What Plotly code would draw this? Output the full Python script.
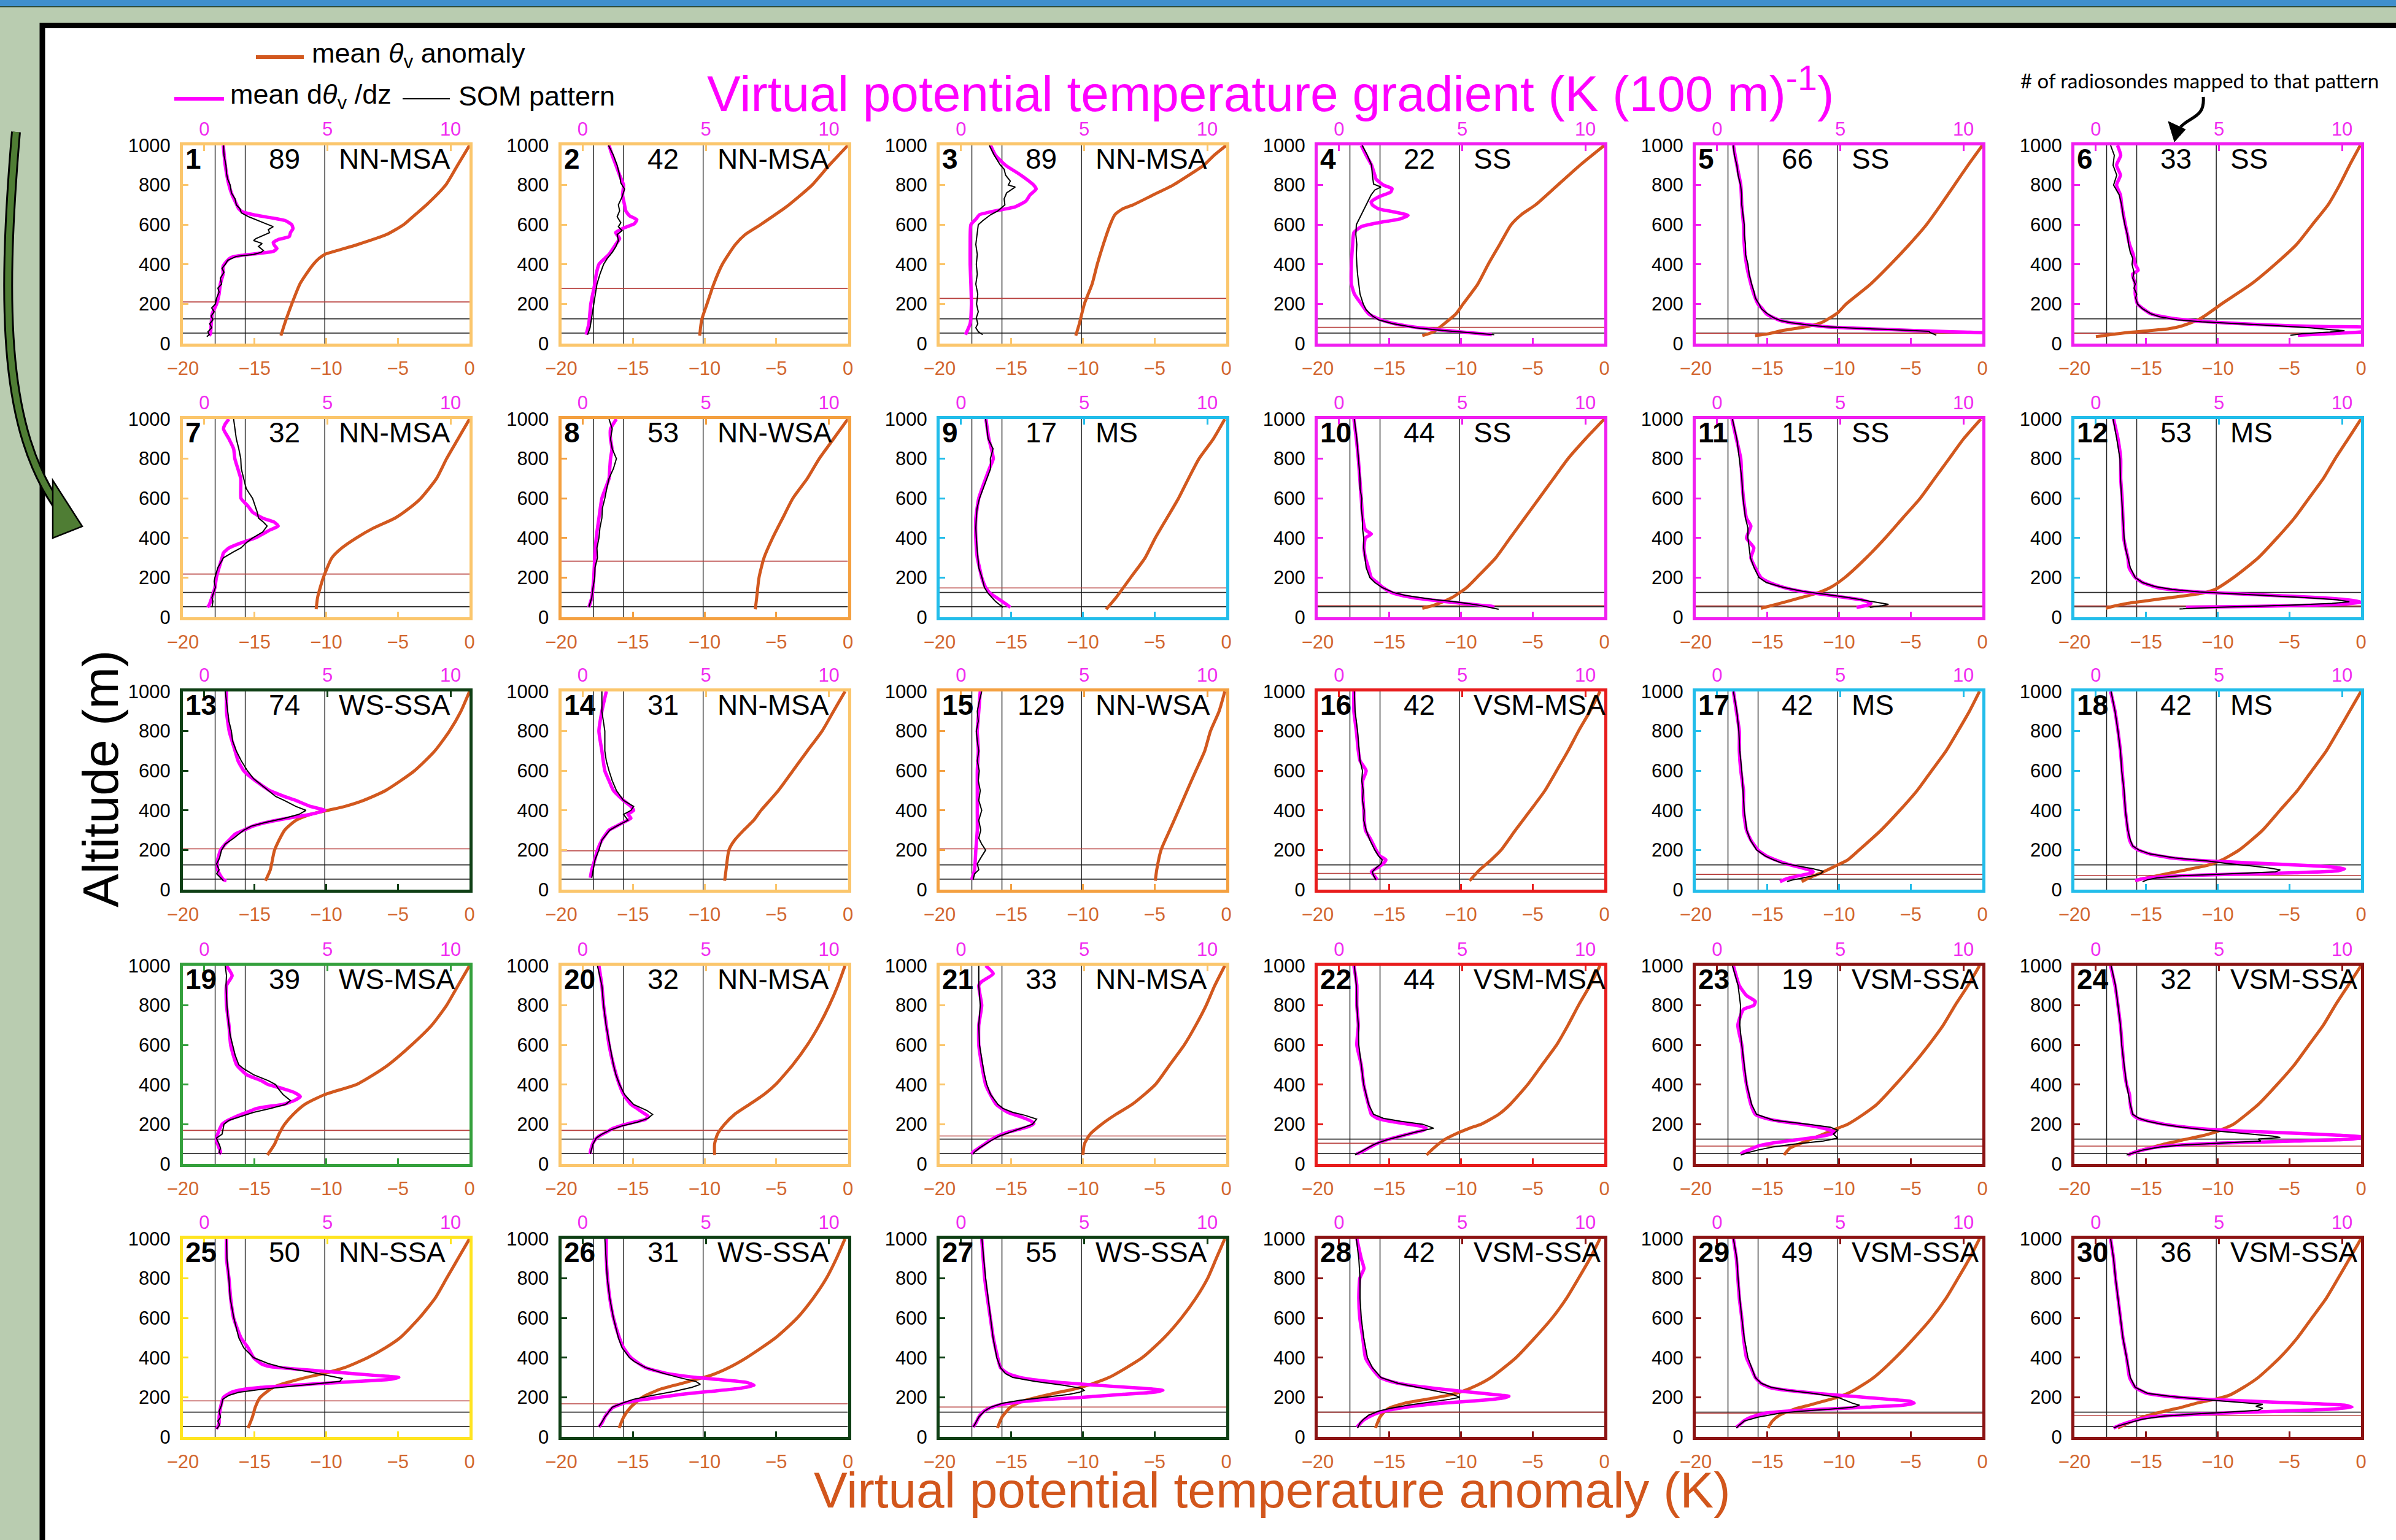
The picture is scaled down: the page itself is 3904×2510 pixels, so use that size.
import plotly.graph_objects as go

# ---------------- data ----------------
PANEL_NO = list(range(1, 31))
COUNTS = [89, 42, 89, 22, 66, 33, 32, 53, 17, 44, 15, 53, 74, 31, 129, 42, 42, 42,
          39, 32, 33, 44, 19, 32, 50, 31, 55, 42, 49, 36]
CLASSES = ["NN-MSA", "NN-MSA", "NN-MSA", "SS", "SS", "SS",
           "NN-MSA", "NN-WSA", "MS", "SS", "SS", "MS",
           "WS-SSA", "NN-MSA", "NN-WSA", "VSM-MSA", "MS", "MS",
           "WS-MSA", "NN-MSA", "NN-MSA", "VSM-MSA", "VSM-SSA", "VSM-SSA",
           "NN-SSA", "WS-SSA", "WS-SSA", "VSM-SSA", "VSM-SSA", "VSM-SSA"]
CLASS_COLORS = {"NN-MSA": "#FBC66C", "NN-WSA": "#F4A040", "SS": "#F01EF0", "MS": "#22BDEA",
                "WS-SSA": "#0E3F14", "WS-MSA": "#34A03C", "VSM-MSA": "#E81C1C",
                "VSM-SSA": "#8C1313", "NN-SSA": "#FFE420"}
RED_LINE_Z = [210, 278, 228, 82, 52, 52, 218, 283, 148, 58, 57, 57, 206, 196, 206, 82, 77, 72,
              169, 169, 141, 104, 90, 90, 182, 167, 151, 125, 120, 109]
BLACK_LINE_Z = [53, 125]
GUIDE_X = [-17.75, -15.65, -10.1]
X_BOTTOM_TICKS = [-20, -15, -10, -5, 0]
X_TOP_TICKS = [0, 5, 10]
Y_TICKS = [0, 200, 400, 600, 800, 1000]

# [altitude m, value] ; MAG/SOM in K (100 m)^-1, THV in K
MAG_01 = [[40,0.2],[50,0.25],[100,0.28],[150,0.32],[200,0.5],[250,0.6],[300,0.65],[350,0.76],[390,0.76],[420,0.94],[435,1.1],[445,1.5],[455,2.2],[465,2.8],[480,2.95],[495,2.85],[510,2.8],[525,3.0],[540,3.45],[560,3.5],[580,3.6],[600,3.55],[620,3.3],[635,2.7],[650,2.0],[665,1.55],[680,1.4],[700,1.32],[750,1.13],[800,1.0],[900,0.85],[1000,0.77]]
SOM_01 = [[35,0.1],[45,0.2],[60,0.15],[80,0.3],[100,0.22],[120,0.35],[140,0.28],[160,0.4],[180,0.3],[200,0.45],[230,0.5],[260,0.6],[280,0.55],[300,0.7],[330,0.65],[360,0.8],[380,0.72],[400,0.85],[420,0.95],[440,1.3],[450,2.0],[460,2.3],[470,2.4],[490,2.2],[505,2.35],[520,2.0],[530,2.1],[545,2.4],[560,2.65],[575,2.6],[590,2.8],[605,2.5],[620,2.2],[640,1.8],[660,1.5],[680,1.45],[700,1.3],[730,1.25],[760,1.1],[800,1.05],[830,0.95],[860,0.9],[900,0.88],[950,0.8],[1000,0.78]]
THV_01 = [[40,-13.16],[100,-12.9],[200,-12.4],[300,-11.84],[350,-11.4],[400,-10.9],[430,-10.5],[450,-10.1],[470,-9.2],[500,-7.8],[550,-5.8],[600,-4.6],[650,-3.8],[700,-3.0],[800,-1.66],[900,-0.83],[1000,0.0]]

MAG_02 = [[45,0.14],[100,0.25],[200,0.33],[300,0.49],[350,0.55],[400,0.66],[430,0.9],[450,1.07],[500,1.34],[530,1.5],[560,1.34],[585,1.7],[605,2.1],[625,2.2],[645,1.9],[670,1.75],[700,1.7],[750,1.62],[800,1.66],[850,1.5],[900,1.35],[950,1.2],[1000,1.07]]
SOM_02 = [[45,0.2],[80,0.3],[120,0.35],[160,0.4],[200,0.45],[250,0.5],[300,0.58],[350,0.7],[400,0.85],[430,1.0],[460,1.2],[490,1.35],[520,1.45],[550,1.4],[570,1.6],[590,1.45],[610,1.55],[640,1.4],[670,1.5],[700,1.45],[740,1.6],[780,1.7],[810,1.55],[850,1.5],[900,1.4],[950,1.25],[1000,1.05]]
THV_02 = [[40,-10.34],[120,-10.2],[200,-9.83],[300,-9.36],[400,-8.76],[500,-7.85],[550,-7.17],[600,-6.1],[700,-4.12],[800,-2.5],[900,-1.3],[1000,0.0]]

MAG_03 = [[45,0.18],[100,0.37],[200,0.42],[300,0.4],[400,0.37],[500,0.37],[600,0.4],[630,0.62],[650,0.75],[670,1.4],[690,2.2],[720,2.64],[750,2.8],[780,3.05],[800,2.95],[850,2.43],[900,1.81],[950,1.4],[1000,1.2]]
SOM_03 = [[45,0.88],[60,0.7],[80,0.6],[100,0.68],[130,0.62],[160,0.7],[200,0.63],[250,0.68],[300,0.6],[350,0.66],[400,0.62],[450,0.66],[500,0.6],[550,0.65],[600,0.7],[620,0.88],[650,1.2],[670,1.5],[700,1.78],[730,1.75],[760,1.85],[790,2.2],[800,1.92],[820,2.0],[850,1.81],[880,1.75],[900,1.6],[950,1.35],[1000,1.15]]
THV_03 = [[40,-10.5],[100,-10.25],[200,-9.9],[300,-9.36],[400,-9.0],[500,-8.58],[600,-8.1],[650,-7.77],[680,-7.23],[700,-6.5],[750,-5.1],[800,-3.7],[850,-2.6],[900,-1.56],[950,-0.85],[1000,0.0]]

MAG_04 = [[45,6.2],[55,5.3],[65,4.45],[80,3.27],[100,2.27],[120,1.7],[150,1.2],[200,0.9],[250,0.62],[300,0.5],[400,0.5],[500,0.55],[560,0.6],[590,0.9],[610,1.6],[630,2.5],[647,2.8],[665,2.2],[680,1.6],[700,1.35],[715,1.3],[740,1.6],[765,2.1],[782,2.15],[800,1.8],[830,1.5],[850,1.45],[900,1.32],[950,1.1],[1000,0.9]]
SOM_04 = [[45,6.3],[55,5.2],[65,4.3],[80,3.1],[100,2.2],[120,1.6],[140,1.35],[170,1.1],[200,0.98],[250,0.85],[300,0.8],[350,0.75],[400,0.72],[450,0.7],[500,0.72],[550,0.68],[600,0.7],[650,0.9],[700,1.1],[750,1.3],[775,1.45],[790,1.7],[805,1.4],[850,1.35],[900,1.32],[950,1.15],[1000,0.94]]
THV_04 = [[40,-12.7],[60,-11.9],[100,-11.17],[150,-10.35],[200,-9.85],[300,-8.83],[400,-8.1],[500,-7.3],[600,-6.5],[650,-5.8],[700,-4.8],[800,-3.25],[900,-1.7],[1000,0.0]]

MAG_05 = [[52,11.2],[55,10.9],[58,10.0],[62,9.0],[66,8.0],[72,6.8],[78,5.5],[85,4.4],[95,3.7],[105,3.0],[115,2.6],[130,2.3],[150,2.0],[175,1.84],[200,1.66],[250,1.49],[300,1.37],[400,1.19],[500,1.1],[600,1.07],[700,1.0],[800,0.96],[900,0.8],[1000,0.66]]
SOM_05 = [[42,8.9],[50,8.75],[56,8.65],[62,8.6],[66,8.0],[72,6.8],[78,5.5],[85,4.4],[95,3.6],[105,3.0],[115,2.6],[130,2.3],[150,2.05],[175,1.8],[200,1.7],[230,1.55],[260,1.5],[300,1.4],[350,1.3],[400,1.25],[450,1.15],[500,1.15],[550,1.1],[600,1.1],[650,1.05],[700,1.0],[750,1.0],[800,0.95],[850,0.85],[900,0.8],[950,0.7],[1000,0.65]]
THV_05 = [[40,-15.86],[50,-14.9],[65,-14.0],[85,-12.3],[107,-11.2],[155,-10.1],[200,-9.5],[300,-7.8],[400,-6.4],[500,-5.1],[600,-3.9],[700,-2.9],[800,-1.95],[900,-1.0],[1000,0.0]]

MAG_06 = [[42,8.2],[50,9.5],[60,10.9],[70,11.2],[80,11.2],[85,9.5],[90,7.9],[100,6.0],[110,4.55],[120,3.6],[130,2.97],[150,2.24],[175,1.93],[200,1.69],[250,1.6],[300,1.6],[350,1.49],[370,1.72],[400,1.6],[450,1.52],[500,1.37],[600,1.2],[700,1.05],[750,1.0],[800,0.84],[850,1.0],[900,0.84],[950,1.01],[1000,0.88]]
SOM_06 = [[42,7.9],[50,8.4],[58,9.5],[65,10.1],[70,9.6],[80,8.7],[90,7.4],[100,5.7],[110,4.3],[120,3.3],[135,2.6],[150,2.24],[175,1.9],[200,1.69],[230,1.62],[250,1.66],[280,1.55],[300,1.6],[330,1.5],[360,1.55],[400,1.47],[430,1.5],[460,1.4],[500,1.33],[550,1.28],[600,1.18],[650,1.1],[700,1.05],[750,0.95],[800,0.72],[850,0.85],[900,0.7],[950,0.75],[1000,0.6]]
THV_06 = [[35,-18.5],[45,-17.5],[55,-16.4],[65,-14.8],[75,-13.4],[85,-12.7],[100,-12.05],[120,-11.37],[150,-10.7],[200,-9.73],[300,-7.67],[400,-6.0],[500,-4.5],[600,-3.4],[700,-2.3],[800,-1.5],[900,-0.8],[1000,-0.05]]

MAG_07 = [[50,0.13],[60,0.19],[100,0.31],[150,0.43],[200,0.49],[250,0.6],[300,0.72],[325,0.78],[350,1.01],[375,1.49],[400,2.07],[420,2.37],[440,2.66],[460,3.0],[480,2.84],[500,2.37],[530,1.96],[560,1.78],[600,1.49],[650,1.48],[700,1.48],[750,1.36],[800,1.24],[850,1.19],[900,1.0],[950,0.78],[975,0.85],[1000,1.0]]
SOM_07 = [[50,0.31],[80,0.35],[100,0.31],[130,0.4],[150,0.45],[180,0.4],[200,0.43],[250,0.55],[300,0.78],[330,1.19],[350,1.49],[375,1.7],[400,1.96],[430,2.37],[460,2.55],[480,2.4],[500,2.2],[530,2.15],[560,2.07],[600,1.96],[630,1.8],[650,1.7],[700,1.6],[750,1.5],[800,1.48],[850,1.4],[900,1.3],[950,1.25],[1000,1.19]]
THV_07 = [[40,-10.7],[100,-10.6],[200,-10.2],[300,-9.6],[350,-8.9],[400,-7.9],[450,-6.7],[500,-5.2],[550,-4.2],[600,-3.4],[700,-2.3],[800,-1.6],[900,-0.8],[1000,0.0]]

MAG_08 = [[50,0.25],[100,0.37],[200,0.45],[300,0.49],[400,0.55],[500,0.66],[600,0.78],[700,1.07],[750,1.1],[800,1.13],[850,1.19],[900,1.13],[950,1.13],[1000,1.37]]
SOM_08 = [[50,0.25],[100,0.37],[150,0.42],[200,0.49],[250,0.5],[300,0.6],[350,0.58],[400,0.66],[450,0.7],[500,0.78],[550,0.8],[600,0.9],[650,0.98],[700,1.07],[750,1.25],[800,1.37],[850,1.2],[900,1.13],[950,1.2],[1000,1.07]]
THV_08 = [[40,-6.46],[100,-6.36],[200,-6.2],[300,-5.85],[400,-5.25],[500,-4.55],[600,-3.84],[700,-2.83],[800,-2.0],[900,-1.0],[1000,0.0]]

MAG_09 = [[50,2.0],[60,1.9],[80,1.67],[100,1.43],[120,1.19],[150,1.0],[200,0.84],[250,0.75],[300,0.66],[400,0.6],[500,0.6],[600,0.72],[700,1.0],[750,1.15],[800,1.31],[900,1.13],[1000,1.01]]
SOM_09 = [[50,1.7],[60,1.6],[80,1.4],[100,1.25],[120,1.1],[150,0.95],[200,0.85],[250,0.72],[300,0.68],[350,0.65],[400,0.62],[450,0.6],[500,0.62],[550,0.65],[600,0.75],[650,0.9],[700,1.05],[750,1.2],[800,1.19],[850,1.3],[900,1.1],[950,1.05],[1000,1.0]]
THV_09 = [[40,-8.38],[100,-7.68],[200,-6.67],[300,-5.66],[400,-4.95],[500,-4.14],[600,-3.33],[700,-2.63],[800,-1.9],[900,-0.9],[1000,-0.1]]

MAG_10 = [[50,6.3],[55,6.2],[60,5.8],[70,5.0],[80,4.25],[90,3.54],[100,2.96],[110,2.55],[125,2.13],[150,1.78],[175,1.55],[200,1.31],[250,1.19],[300,1.07],[350,1.01],[400,1.07],[420,1.31],[440,1.07],[500,0.96],[600,0.9],[700,0.84],[800,0.78],[900,0.7],[1000,0.6]]
SOM_10 = [[40,6.48],[50,6.1],[60,5.7],[70,5.2],[80,4.6],[90,3.8],[100,3.2],[110,2.7],[125,2.2],[150,1.75],[175,1.45],[200,1.25],[250,1.1],[300,1.05],[350,1.0],[400,1.0],[450,0.95],[500,0.95],[550,0.9],[600,0.92],[650,0.85],[700,0.85],[800,0.78],[900,0.72],[1000,0.62]]
THV_10 = [[45,-12.7],[60,-11.9],[80,-11.2],[100,-10.6],[150,-9.6],[200,-8.9],[300,-7.57],[400,-6.57],[500,-5.56],[600,-4.55],[700,-3.54],[800,-2.53],[900,-1.31],[1000,0.0]]

MAG_11 = [[50,5.66],[60,6.07],[70,6.25],[80,6.07],[90,5.78],[100,5.19],[115,4.31],[130,3.43],[150,2.72],[175,2.13],[200,1.78],[250,1.55],[300,1.37],[350,1.49],[400,1.19],[460,1.37],[500,1.19],[600,1.07],[700,1.0],[800,0.96],[900,0.78],[1000,0.6]]
SOM_11 = [[50,6.2],[58,6.7],[65,6.96],[75,6.5],[85,6.0],[100,5.3],[115,4.4],[130,3.5],[150,2.7],[175,2.0],[200,1.7],[250,1.5],[300,1.35],[350,1.3],[400,1.25],[450,1.25],[500,1.15],[600,1.05],[700,1.0],[800,0.9],[900,0.8],[1000,0.62]]
THV_11 = [[45,-15.45],[60,-14.65],[80,-13.6],[100,-12.6],[120,-11.6],[150,-10.6],[200,-9.6],[300,-8.1],[400,-6.77],[500,-5.56],[600,-4.34],[700,-3.33],[800,-2.32],[900,-1.31],[1000,-0.1]]

MAG_12 = [[50,3.66],[55,6.6],[65,9.84],[75,10.8],[85,10.4],[95,9.54],[105,8.07],[115,6.3],[125,4.54],[135,3.37],[150,2.49],[175,1.9],[200,1.6],[250,1.35],[300,1.3],[400,1.13],[500,1.1],[600,1.07],[700,1.01],[800,1.01],[900,0.9],[1000,0.72]]
SOM_12 = [[42,3.4],[50,5.0],[60,7.8],[70,9.6],[78,10.3],[88,9.8],[98,8.6],[108,7.1],[118,5.6],[128,4.2],[140,3.1],[155,2.4],[175,1.9],[200,1.6],[250,1.4],[300,1.3],[350,1.2],[400,1.15],[500,1.1],[600,1.05],[700,1.0],[800,0.98],[900,0.85],[1000,0.7]]
THV_12 = [[45,-17.8],[55,-17.3],[70,-16.3],[85,-14.75],[100,-13.2],[120,-11.2],[140,-10.2],[200,-8.9],[300,-7.17],[400,-5.86],[500,-4.65],[600,-3.64],[700,-2.63],[800,-1.8],[900,-0.9],[1000,0.0]]

MAG_13 = [[45,0.9],[50,0.78],[70,0.66],[100,0.54],[150,0.54],[200,0.66],[220,0.78],[250,1.01],[280,1.25],[300,1.6],[320,1.96],[340,2.55],[360,3.37],[380,4.31],[400,4.9],[420,4.31],[450,3.72],[470,3.25],[500,2.66],[550,2.07],[600,1.6],[650,1.37],[700,1.25],[800,1.01],[900,0.9],[1000,0.9]]
SOM_13 = [[45,0.78],[60,0.66],[80,0.5],[100,0.6],[130,0.5],[160,0.62],[200,0.7],[230,0.85],[260,1.2],[280,1.4],[300,1.6],[320,1.9],[340,2.5],[360,3.25],[380,3.84],[400,4.13],[420,3.72],[450,3.25],[470,2.9],[500,2.6],[530,2.3],[560,2.0],[600,1.75],[650,1.5],[700,1.3],[750,1.15],[800,1.1],[850,1.0],[900,0.95],[950,0.9],[1000,0.85]]
THV_13 = [[45,-14.24],[100,-13.9],[200,-13.6],[300,-12.9],[350,-12.1],[380,-11.1],[400,-9.9],[420,-8.7],[450,-7.4],[500,-5.86],[600,-3.84],[700,-2.42],[800,-1.4],[900,-0.6],[1000,0.0]]

MAG_14 = [[60,0.31],[100,0.37],[150,0.49],[200,0.6],[250,0.78],[300,1.07],[320,1.37],[340,1.66],[360,1.96],[380,1.84],[400,2.07],[420,1.96],[450,1.66],[500,1.25],[550,1.07],[600,0.9],[700,0.78],[800,0.66],[900,0.78],[1000,0.96]]
SOM_14 = [[60,0.37],[100,0.42],[150,0.5],[200,0.66],[250,0.78],[300,1.1],[320,1.37],[350,1.84],[380,1.66],[400,1.96],[420,2.07],[450,1.66],[500,1.37],[550,1.2],[600,1.07],[650,0.96],[700,0.9],[800,0.9],[900,0.78],[1000,0.78]]
THV_14 = [[45,-8.6],[100,-8.5],[200,-8.3],[250,-7.9],[300,-7.27],[350,-6.57],[400,-6.06],[500,-4.85],[600,-3.84],[700,-2.83],[800,-1.8],[900,-1.0],[1000,-0.2]]

MAG_15 = [[50,0.43],[100,0.55],[200,0.6],[300,0.66],[400,0.66],[500,0.66],[600,0.66],[700,0.7],[800,0.66],[900,0.72],[1000,0.78]]
SOM_15 = [[50,0.49],[80,0.55],[100,0.72],[130,0.66],[160,0.8],[200,1.0],[230,0.84],[260,0.72],[300,0.8],[350,0.72],[400,0.84],[450,0.72],[500,0.78],[550,0.7],[600,0.74],[650,0.66],[700,0.72],[750,0.66],[800,0.62],[850,0.7],[900,0.66],[950,0.74],[1000,0.84]]
THV_15 = [[45,-4.95],[100,-4.85],[200,-4.55],[300,-3.94],[400,-3.33],[500,-2.73],[600,-2.12],[700,-1.5],[800,-1.1],[900,-0.5],[1000,-0.1]]

MAG_16 = [[50,1.55],[70,1.43],[90,1.31],[110,1.55],[130,1.78],[150,1.9],[170,1.66],[200,1.5],[250,1.3],[300,1.07],[400,1.0],[500,0.96],[550,0.96],[600,1.1],[650,0.85],[700,0.78],[800,0.7],[900,0.6],[1000,0.6]]
SOM_16 = [[50,1.5],[70,1.4],[90,1.35],[110,1.5],[130,1.7],[150,1.75],[170,1.6],[200,1.45],[250,1.25],[300,1.1],[350,1.0],[400,1.02],[450,0.95],[500,0.98],[550,0.92],[600,0.95],[650,0.85],[700,0.82],[800,0.75],[900,0.65],[1000,0.62]]
THV_16 = [[45,-9.4],[100,-8.7],[150,-7.9],[200,-7.2],[300,-6.2],[400,-5.16],[500,-4.14],[600,-3.33],[700,-2.53],[800,-1.8],[900,-1.0],[1000,-0.3]]

MAG_17 = [[40,2.55],[50,2.72],[60,2.96],[70,3.31],[80,3.72],[90,3.9],[100,3.72],[110,3.43],[130,2.84],[150,2.37],[170,2.0],[200,1.66],[250,1.37],[300,1.19],[400,1.07],[500,1.07],[600,0.96],[700,0.9],[800,0.9],[900,0.78],[1000,0.66]]
SOM_17 = [[41,2.84],[50,3.1],[60,3.5],[70,3.9],[80,4.2],[93,4.31],[105,3.9],[120,3.2],[135,2.6],[150,2.3],[170,1.95],[200,1.6],[250,1.35],[300,1.2],[350,1.15],[400,1.1],[500,1.05],[600,1.0],[700,0.92],[800,0.88],[900,0.8],[1000,0.66]]
THV_17 = [[40,-12.6],[60,-12.1],[80,-11.4],[100,-10.8],[125,-10.1],[150,-9.4],[200,-8.6],[300,-7.07],[400,-5.76],[500,-4.55],[600,-3.54],[700,-2.53],[800,-1.7],[900,-0.9],[1000,-0.2]]

MAG_18 = [[45,1.6],[50,1.72],[60,2.19],[70,3.37],[78,5.7],[85,8.07],[95,9.84],[105,10.1],[115,9.54],[125,8.07],[135,6.3],[145,4.54],[160,3.07],[180,2.19],[200,1.72],[220,1.49],[250,1.37],[300,1.3],[400,1.2],[500,1.13],[600,1.07],[700,1.0],[800,0.9],[900,0.78],[1000,0.6]]
SOM_18 = [[40,1.9],[50,2.1],[60,2.49],[70,3.37],[80,5.43],[90,7.3],[100,7.49],[110,7.0],[120,6.3],[132,5.3],[145,4.54],[160,3.2],[180,2.2],[200,1.75],[220,1.5],[250,1.4],[300,1.3],[350,1.25],[400,1.2],[500,1.15],[600,1.05],[700,1.0],[800,0.9],[900,0.78],[1000,0.62]]
THV_18 = [[45,-15.76],[55,-15.25],[70,-14.24],[85,-13.2],[100,-12.2],[115,-11.2],[130,-10.4],[150,-9.7],[200,-8.5],[300,-6.87],[400,-5.66],[500,-4.44],[600,-3.43],[700,-2.42],[800,-1.6],[900,-0.8],[1000,0.0]]

MAG_19 = [[50,0.6],[60,0.66],[80,0.6],[100,0.54],[120,0.49],[150,0.54],[200,0.72],[220,0.96],[240,1.31],[260,1.72],[280,2.13],[290,2.6],[300,3.19],[320,3.66],[340,3.9],[360,3.66],[380,3.19],[400,2.6],[420,2.31],[450,1.72],[500,1.31],[600,1.07],[700,1.0],[800,0.9],[900,0.9],[950,1.13],[1000,0.9]]
SOM_19 = [[50,0.66],[60,0.6],[80,0.66],[100,0.6],[130,0.49],[150,0.72],[200,0.8],[220,1.0],[240,1.5],[260,2.0],[280,2.7],[300,3.3],[320,3.5],[350,3.2],[380,3.0],[400,2.9],[420,2.6],[450,2.0],[480,1.6],[500,1.4],[550,1.25],[600,1.15],[650,1.05],[700,1.0],[750,0.95],[800,0.92],[850,0.9],[900,0.88],[950,0.9],[1000,0.85]]
THV_19 = [[45,-14.1],[100,-13.6],[150,-13.3],[200,-12.9],[250,-12.3],[300,-11.5],[350,-10.1],[400,-7.9],[450,-6.7],[500,-5.66],[600,-4.04],[700,-2.63],[800,-1.6],[900,-0.8],[1000,0.0]]

MAG_20 = [[50,0.31],[60,0.31],[100,0.4],[120,0.49],[140,0.66],[160,0.96],[180,1.25],[195,1.6],[210,2.07],[225,2.55],[240,2.66],[260,2.43],[280,2.2],[300,1.96],[350,1.66],[400,1.49],[500,1.25],[600,1.07],[700,0.96],[800,0.85],[900,0.78],[1000,0.66]]
SOM_20 = [[50,0.31],[100,0.42],[130,0.55],[150,0.78],[170,1.1],[190,1.55],[210,2.2],[230,2.66],[250,2.84],[270,2.6],[300,2.07],[350,1.7],[400,1.5],[450,1.35],[500,1.25],[600,1.1],[700,0.95],[800,0.85],[900,0.78],[1000,0.6]]
THV_20 = [[45,-9.3],[100,-9.3],[150,-9.1],[200,-8.6],[250,-7.9],[300,-6.87],[350,-5.86],[400,-5.05],[500,-3.84],[600,-2.83],[700,-2.0],[800,-1.3],[900,-0.7],[1000,-0.2]]

MAG_21 = [[50,0.43],[60,0.49],[80,0.72],[100,0.96],[120,1.19],[140,1.49],[160,1.9],[175,2.37],[190,2.78],[205,2.96],[220,2.78],[240,2.37],[260,1.9],[300,1.43],[350,1.19],[400,1.0],[500,0.84],[600,0.72],[700,0.72],[800,0.84],[900,0.72],[920,0.84],[960,1.31],[1000,1.0]]
SOM_21 = [[50,0.49],[60,0.55],[80,0.75],[100,1.0],[120,1.25],[140,1.55],[160,2.0],[180,2.5],[200,2.9],[226,3.07],[245,2.6],[260,2.1],[280,1.7],[300,1.5],[350,1.2],[400,1.05],[450,0.95],[500,0.88],[600,0.75],[700,0.72],[800,0.78],[900,0.72],[1000,0.72]]
THV_21 = [[45,-10.0],[100,-9.9],[150,-9.5],[200,-8.7],[250,-7.7],[300,-6.57],[400,-4.95],[500,-3.94],[600,-2.93],[700,-2.12],[800,-1.4],[900,-0.8],[1000,-0.1]]

MAG_22 = [[50,0.72],[60,0.9],[80,1.19],[100,1.49],[120,1.9],[140,2.49],[155,2.96],[170,3.43],[180,3.54],[190,3.31],[200,2.84],[215,2.07],[230,1.55],[250,1.31],[300,1.19],[400,1.0],[500,0.9],[600,0.72],[700,0.78],[800,0.72],[900,0.72],[1000,0.6]]
SOM_22 = [[45,0.65],[60,0.85],[80,1.15],[100,1.45],[120,1.9],[140,2.5],[160,3.1],[180,3.84],[200,3.4],[215,2.5],[230,1.8],[250,1.4],[300,1.2],[350,1.1],[400,1.0],[500,0.9],[600,0.8],[700,0.78],[800,0.72],[900,0.7],[1000,0.62]]
THV_22 = [[45,-12.4],[80,-11.9],[120,-11.2],[150,-10.4],[180,-9.4],[200,-8.6],[250,-7.37],[300,-6.57],[400,-5.35],[500,-4.34],[600,-3.33],[700,-2.53],[800,-1.8],[900,-1.0],[1000,-0.3]]

MAG_23 = [[50,0.96],[60,1.07],[75,1.37],[90,1.66],[105,2.25],[120,3.13],[135,4.02],[150,4.6],[160,4.78],[170,4.6],[185,4.13],[200,3.43],[215,2.55],[230,1.96],[250,1.55],[300,1.37],[400,1.19],[500,1.07],[600,1.0],[700,0.84],[780,1.07],[800,1.49],[820,1.55],[850,1.19],[900,0.9],[1000,0.66]]
SOM_23 = [[45,0.96],[55,1.19],[70,1.66],[85,2.25],[100,3.13],[115,4.31],[130,4.9],[150,4.72],[170,4.9],[185,4.6],[200,3.72],[220,2.3],[250,1.6],[300,1.4],[400,1.2],[500,1.1],[600,1.0],[700,0.92],[800,0.95],[900,0.85],[1000,0.62]]
THV_23 = [[45,-13.84],[80,-13.43],[100,-12.8],[120,-12.1],[150,-11.1],[180,-10.1],[200,-9.4],[250,-8.3],[300,-7.37],[400,-6.06],[500,-4.85],[600,-3.74],[700,-2.73],[800,-1.9],[900,-1.0],[1000,-0.2]]

MAG_24 = [[45,1.31],[55,1.49],[70,1.9],[85,2.49],[95,3.37],[105,5.13],[115,8.07],[125,10.4],[135,10.9],[145,9.84],[155,8.07],[165,6.0],[175,4.54],[185,3.66],[200,2.78],[215,2.19],[230,1.7],[250,1.49],[300,1.4],[350,1.37],[400,1.25],[500,1.13],[600,1.07],[700,1.0],[800,0.9],[900,0.78],[1000,0.6]]
SOM_24 = [[45,1.25],[55,1.5],[70,1.9],[85,2.6],[95,3.5],[105,5.13],[115,6.7],[125,6.6],[133,7.49],[140,7.2],[150,6.3],[160,5.3],[170,4.54],[185,3.5],[200,2.7],[215,2.1],[230,1.75],[250,1.5],[300,1.4],[400,1.25],[500,1.15],[600,1.05],[700,1.0],[800,0.9],[900,0.8],[1000,0.62]]
THV_24 = [[45,-16.26],[60,-15.76],[80,-14.75],[100,-13.74],[120,-12.5],[140,-11.2],[160,-10.2],[180,-9.5],[200,-8.9],[300,-7.17],[400,-5.86],[500,-4.65],[600,-3.64],[700,-2.63],[800,-1.8],[900,-0.9],[1000,0.0]]

MAG_25 = [[40,0.49],[50,0.54],[70,0.6],[100,0.6],[150,0.66],[200,0.78],[225,1.1],[240,1.6],[250,2.3],[260,3.5],[270,4.8],[280,6.2],[290,7.5],[300,7.9],[310,7.0],[325,5.5],[340,4.0],[355,2.66],[370,2.3],[400,2.0],[450,1.78],[500,1.49],[600,1.19],[700,1.07],[800,1.0],[900,0.9],[1000,0.9]]
SOM_25 = [[40,0.5],[60,0.62],[80,0.55],[100,0.66],[130,0.6],[160,0.7],[190,0.75],[210,1.0],[225,1.4],[240,2.3],[255,3.5],[270,4.8],[280,5.5],[295,5.6],[310,5.0],[330,4.2],[350,3.2],[370,2.6],[400,2.0],[450,1.6],[500,1.4],[600,1.2],[700,1.05],[800,1.0],[900,0.92],[1000,0.9]]
THV_25 = [[45,-15.45],[100,-15.15],[150,-14.95],[200,-14.6],[250,-13.7],[275,-12.7],[300,-11.4],[325,-9.9],[350,-8.7],[400,-7.1],[450,-5.86],[500,-4.85],[600,-3.5],[700,-2.4],[800,-1.6],[900,-0.8],[1000,0.0]]

MAG_26 = [[50,0.66],[70,0.78],[100,0.9],[120,1.01],[150,1.25],[170,1.66],[185,2.25],[200,3.13],[215,4.02],[230,5.19],[245,6.37],[260,6.96],[275,6.66],[290,5.5],[300,4.6],[320,3.43],[350,2.55],[400,1.96],[450,1.66],[500,1.49],[600,1.25],[700,1.1],[800,1.01],[900,0.96],[1000,0.96]]
SOM_26 = [[50,0.66],[100,0.9],[150,1.2],[170,1.6],[190,2.07],[210,2.84],[230,3.72],[250,4.43],[265,4.78],[280,4.6],[300,3.9],[320,3.3],[350,2.55],[380,2.1],[400,1.9],[450,1.6],[500,1.45],[600,1.25],[700,1.1],[800,1.0],[900,0.95],[1000,0.9]]
THV_26 = [[45,-15.96],[100,-15.65],[150,-15.15],[200,-14.34],[240,-13.13],[270,-11.6],[290,-10.6],[310,-9.6],[350,-8.3],[400,-7.07],[500,-5.05],[600,-3.54],[700,-2.42],[800,-1.5],[900,-0.8],[1000,-0.2]]

MAG_27 = [[50,0.49],[70,0.6],[100,0.72],[120,0.84],[140,1.07],[160,1.5],[175,2.3],[190,3.6],[200,4.9],[215,6.6],[225,7.8],[235,8.2],[245,7.4],[255,6.2],[270,4.5],[285,3.2],[300,2.4],[320,1.9],[350,1.6],[400,1.49],[500,1.31],[600,1.19],[700,1.07],[800,0.96],[900,0.9],[1000,0.84]]
SOM_27 = [[50,0.5],[100,0.72],[130,0.95],[150,1.2],[170,1.7],[185,2.4],[200,3.4],[215,4.4],[225,4.8],[235,5.0],[245,4.9],[260,4.2],[280,3.0],[300,2.1],[320,1.8],[350,1.6],[400,1.45],[500,1.3],[600,1.2],[700,1.1],[800,1.0],[900,0.92],[1000,0.85]]
THV_27 = [[45,-15.96],[100,-15.65],[150,-15.05],[180,-14.24],[200,-13.2],[220,-12.0],[240,-10.7],[260,-9.7],[300,-8.18],[400,-5.86],[500,-4.34],[600,-3.13],[700,-2.12],[800,-1.3],[900,-0.7],[1000,-0.1]]

MAG_28 = [[50,0.72],[60,0.8],[80,0.95],[100,1.2],[120,1.55],[135,2.0],[150,2.7],[165,3.7],[175,4.7],[185,5.8],[195,6.6],[205,6.9],[215,6.2],[230,5.0],[245,3.9],[260,2.9],[280,2.1],[300,1.66],[350,1.31],[400,1.07],[500,0.96],[600,0.84],[700,0.8],[800,0.84],[850,1.01],[900,0.9],[1000,0.72]]
SOM_28 = [[45,0.75],[70,0.85],[90,1.0],[110,1.2],[130,1.6],[145,2.1],[160,2.8],[175,3.6],[190,4.5],[200,4.9],[215,4.6],[230,4.0],[250,3.2],[270,2.4],[300,1.7],[350,1.35],[400,1.15],[500,1.0],[600,0.9],[700,0.85],[800,0.85],[900,0.8],[1000,0.7]]
THV_28 = [[45,-15.96],[100,-15.65],[140,-15.15],[170,-13.94],[190,-12.4],[210,-10.9],[230,-9.9],[260,-8.9],[300,-7.9],[400,-6.16],[500,-4.85],[600,-3.64],[700,-2.63],[800,-1.8],[900,-1.0],[1000,-0.3]]

MAG_29 = [[50,0.78],[60,0.9],[80,1.07],[100,1.37],[120,1.96],[130,2.84],[140,4.31],[150,6.07],[160,7.55],[170,8.0],[180,7.84],[190,6.96],[205,5.49],[220,4.02],[235,2.84],[250,2.13],[270,1.78],[300,1.55],[350,1.37],[400,1.19],[500,1.07],[600,1.0],[700,0.9],[800,0.84],[900,0.78],[1000,0.66]]
SOM_29 = [[45,0.78],[60,0.9],[80,1.1],[100,1.66],[120,2.55],[130,3.43],[140,4.6],[150,5.5],[160,5.78],[170,5.5],[185,5.2],[200,4.9],[220,3.9],[235,2.84],[250,2.2],[270,1.8],[300,1.55],[400,1.25],[500,1.1],[600,1.0],[700,0.92],[800,0.85],[900,0.8],[1000,0.66]]
THV_29 = [[45,-14.95],[80,-14.65],[110,-14.14],[140,-13.13],[160,-12.1],[180,-11.1],[200,-10.1],[230,-9.1],[300,-7.57],[400,-6.06],[500,-4.75],[600,-3.54],[700,-2.53],[800,-1.7],[900,-0.9],[1000,-0.2]]

MAG_30 = [[45,0.72],[60,1.0],[80,1.49],[100,2.19],[110,3.37],[120,5.13],[130,7.49],[140,9.54],[150,10.4],[160,10.1],[170,8.37],[180,6.3],[190,4.54],[205,2.9],[220,2.07],[250,1.6],[300,1.37],[400,1.25],[500,1.1],[600,1.0],[700,0.9],[800,0.8],[900,0.72],[1000,0.6]]
SOM_30 = [[45,0.72],[55,0.9],[70,1.31],[90,1.9],[105,2.78],[115,3.96],[125,5.43],[135,6.6],[145,6.78],[155,6.5],[165,6.78],[175,5.72],[190,4.3],[205,3.0],[220,2.1],[250,1.6],[300,1.4],[400,1.25],[500,1.1],[600,1.0],[700,0.9],[800,0.8],[900,0.72],[1000,0.6]]
THV_30 = [[45,-16.97],[70,-16.26],[100,-15.25],[130,-13.7],[150,-12.5],[170,-11.5],[190,-10.2],[210,-9.2],[250,-8.2],[300,-7.17],[400,-5.66],[500,-4.44],[600,-3.43],[700,-2.42],[800,-1.6],[900,-0.8],[1000,0.0]]

MAG = [MAG_01, MAG_02, MAG_03, MAG_04, MAG_05, MAG_06, MAG_07, MAG_08, MAG_09, MAG_10,
       MAG_11, MAG_12, MAG_13, MAG_14, MAG_15, MAG_16, MAG_17, MAG_18, MAG_19, MAG_20,
       MAG_21, MAG_22, MAG_23, MAG_24, MAG_25, MAG_26, MAG_27, MAG_28, MAG_29, MAG_30]
SOM = [SOM_01, SOM_02, SOM_03, SOM_04, SOM_05, SOM_06, SOM_07, SOM_08, SOM_09, SOM_10,
       SOM_11, SOM_12, SOM_13, SOM_14, SOM_15, SOM_16, SOM_17, SOM_18, SOM_19, SOM_20,
       SOM_21, SOM_22, SOM_23, SOM_24, SOM_25, SOM_26, SOM_27, SOM_28, SOM_29, SOM_30]
THV = [THV_01, THV_02, THV_03, THV_04, THV_05, THV_06, THV_07, THV_08, THV_09, THV_10,
       THV_11, THV_12, THV_13, THV_14, THV_15, THV_16, THV_17, THV_18, THV_19, THV_20,
       THV_21, THV_22, THV_23, THV_24, THV_25, THV_26, THV_27, THV_28, THV_29, THV_30]

# ---------------- styling / layout ----------------
W, H = 3904, 2510
FONT = "Liberation Sans, Arial, sans-serif"
ORANGE = "#D2581E"
ORANGE_TXT = "#D2662E"
MAGENTA = "#FF00FF"
MAGENTA_TXT = "#F02CF0"
COL_LEFT = [298, 914.5, 1531, 2147, 2763, 3380]
PANEL_W = 467
ROW_TOP = [237, 683, 1127, 1574, 2019]
PANEL_H = 323
TOP_RANGE = [-0.87, 10.77]
TICK_SIZE = 31
PANEL_TXT = 46


def paper(x, y):
    return x / W, 1 - y / H


def split(pairs):
    return [p[1] for p in pairs], [p[0] for p in pairs]


fig = go.Figure()
layout = dict(width=W, height=H, autosize=False,
              margin=dict(l=0, r=0, t=0, b=0, pad=0, autoexpand=False),
              paper_bgcolor="white", plot_bgcolor="white", showlegend=False,
              font=dict(family=FONT, color="black"))
shapes = []
annotations = []

# page background
shapes.append(dict(type="rect", xref="paper", yref="paper", x0=0, x1=1, y0=0, y1=1,
                   fillcolor="#B9CCB0", line_width=0, layer="below"))
shapes.append(dict(type="rect", xref="paper", yref="paper", x0=0, x1=1, y0=1 - 10 / H, y1=1,
                   fillcolor="#3F8FCD", line_width=0, layer="below"))
shapes.append(dict(type="line", xref="paper", yref="paper", x0=0, x1=1, y0=1 - 11 / H, y1=1 - 11 / H,
                   line=dict(color="#2A4A3A", width=2), layer="below"))
shapes.append(dict(type="rect", xref="paper", yref="paper", x0=69 / W, x1=1 + 30 / W,
                   y0=-30 / H, y1=1 - 41.5 / H, fillcolor="white",
                   line=dict(color="black", width=9), layer="below"))

for k in range(30):
    r, c = divmod(k, 6)
    l, t = COL_LEFT[c], ROW_TOP[r]
    col = CLASS_COLORS[CLASSES[k]]
    xb, xt, ya = f"x{2 * k + 1}", f"x{2 * k + 2}", f"y{k + 1}"
    layout[f"xaxis{2 * k + 1}"] = dict(
        domain=[l / W, (l + PANEL_W) / W], range=[-20, 0], anchor=ya,
        tickmode="array", tickvals=X_BOTTOM_TICKS, ticks="inside", ticklen=9, tickwidth=3,
        tickcolor=col, showline=True, linecolor=col, linewidth=5, mirror=True,
        showgrid=False, zeroline=False, ticklabelstandoff=9,
        tickfont=dict(family=FONT, size=TICK_SIZE, color=ORANGE_TXT), fixedrange=True)
    layout[f"xaxis{2 * k + 2}"] = dict(
        overlaying=xb, side="top", range=TOP_RANGE, anchor=ya,
        tickmode="array", tickvals=X_TOP_TICKS, ticks="inside", ticklen=9, tickwidth=3,
        tickcolor=col, showline=False, showgrid=False, zeroline=False, ticklabelstandoff=9,
        tickfont=dict(family=FONT, size=TICK_SIZE, color=MAGENTA_TXT), fixedrange=True)
    layout[f"yaxis{k + 1}"] = dict(
        domain=[1 - (t + PANEL_H) / H, 1 - t / H], range=[0, 1000], anchor=xb,
        tickmode="array", tickvals=Y_TICKS, ticks="inside", ticklen=9, tickwidth=3,
        tickcolor=col, showline=True, linecolor=col, linewidth=5, mirror=True,
        showgrid=False, zeroline=False, ticklabelstandoff=9,
        tickfont=dict(family=FONT, size=TICK_SIZE, color="black"), fixedrange=True)

    # guide lines
    for gx in GUIDE_X:
        shapes.append(dict(type="line", xref=xb, yref=ya, x0=gx, x1=gx, y0=0, y1=1000,
                           line=dict(color="rgba(0,0,0,0.9)", width=1.4), layer="below"))
    for gz in BLACK_LINE_Z:
        shapes.append(dict(type="line", xref=xb, yref=ya, x0=-20, x1=0, y0=gz, y1=gz,
                           line=dict(color="rgba(20,20,20,0.9)", width=1.6), layer="below"))
    shapes.append(dict(type="line", xref=xb, yref=ya, x0=-20, x1=0, y0=RED_LINE_Z[k], y1=RED_LINE_Z[k],
                       line=dict(color="#B8403E", width=1.6), layer="below"))

    mx, mz = split(MAG[k])
    sx, sz = split(SOM[k])
    tx, tz = split(THV[k])
    fig.add_trace(go.Scatter(x=tx, y=tz, xaxis=xb, yaxis=ya, mode="lines",
                             line=dict(color=ORANGE, width=5, shape="spline", smoothing=0.6),
                             hoverinfo="skip"))
    fig.add_trace(go.Scatter(x=mx, y=mz, xaxis=xt, yaxis=ya, mode="lines",
                             line=dict(color=MAGENTA, width=5.5, shape="spline", smoothing=0.5),
                             hoverinfo="skip"))
    fig.add_trace(go.Scatter(x=sx, y=sz, xaxis=xt, yaxis=ya, mode="lines",
                             line=dict(color="black", width=2), hoverinfo="skip"))

    # panel texts
    annotations.append(dict(xref=xb, yref=ya, x=-19.9, y=932, text=f"<b>{PANEL_NO[k]}</b>",
                            showarrow=False, xanchor="left", yanchor="middle",
                            font=dict(family=FONT, size=PANEL_TXT, color="black")))
    annotations.append(dict(xref=xb, yref=ya, x=-12.9, y=932, text=str(COUNTS[k]),
                            showarrow=False, xanchor="center", yanchor="middle",
                            font=dict(family=FONT, size=PANEL_TXT, color="black")))
    annotations.append(dict(xref=xb, yref=ya, x=-9.2, y=932, text=CLASSES[k],
                            showarrow=False, xanchor="left", yanchor="middle",
                            font=dict(family=FONT, size=PANEL_TXT, color="black")))

# titles
px, py = paper(2070, 146)
annotations.append(dict(xref="paper", yref="paper", x=px, y=py, showarrow=False,
                        text="Virtual potential temperature gradient (K (100 m)<sup>-1</sup>)",
                        font=dict(family=FONT, size=82, color=MAGENTA), xanchor="center", yanchor="middle"))
px, py = paper(2072, 2428)
annotations.append(dict(xref="paper", yref="paper", x=px, y=py, showarrow=False,
                        text="Virtual potential temperature anomaly (K)",
                        font=dict(family=FONT, size=82, color="#D2561C"), xanchor="center", yanchor="middle"))
px, py = paper(163, 1270)
annotations.append(dict(xref="paper", yref="paper", x=px, y=py, showarrow=False, textangle=-90,
                        text="Altitude (m)", font=dict(family=FONT, size=82, color="black"),
                        xanchor="center", yanchor="middle"))
px, py = paper(3584, 131)
annotations.append(dict(xref="paper", yref="paper", x=px, y=py, showarrow=False,
                        text="# of radiosondes mapped to that pattern",
                        font=dict(family="Lato, Open Sans, sans-serif", size=33, color="black"),
                        xanchor="center", yanchor="middle"))

# legend (drawn)
LEG = [(417, 495, 93, ORANGE, 6, 506, "mean <i>θ</i><sub>v</sub> anomaly"),
       (284, 365, 161, MAGENTA, 6, 373, "mean d<i>θ</i><sub>v</sub> /dz"),
       (656, 733, 161, "black", 2, 745, "SOM pattern")]
for x0, x1, yy, lc, lw, tx0, txt in LEG:
    a0, b0 = paper(x0, yy)
    a1, _ = paper(x1, yy)
    shapes.append(dict(type="line", xref="paper", yref="paper", x0=a0, x1=a1, y0=b0, y1=b0,
                       line=dict(color=lc, width=lw)))
    ta, tb = paper(tx0, yy - 4)
    annotations.append(dict(xref="paper", yref="paper", x=ta, y=tb, showarrow=False, text=txt,
                            xanchor="left", yanchor="middle",
                            font=dict(family=FONT, size=45, color="black")))


def path_str(points, close=False, curve=False):
    pts = [paper(x, y) for x, y in points]
    if curve:
        s = f"M {pts[0][0]},{pts[0][1]} C " + " ".join(f"{a},{b}" for a, b in pts[1:])
    else:
        s = "M " + " L ".join(f"{a},{b}" for a, b in pts)
    return s + (" Z" if close else "")


# green curved arrow on the left
shaft = [(26, 215), (0, 520), (10, 700), (92, 822)]
shapes.append(dict(type="path", xref="paper", yref="paper", path=path_str(shaft, curve=True),
                   line=dict(color="black", width=16)))
shapes.append(dict(type="path", xref="paper", yref="paper", path=path_str(shaft, curve=True),
                   line=dict(color="#4F7D34", width=10)))
shapes.append(dict(type="path", xref="paper", yref="paper",
                   path=path_str([(86, 783), (134, 858), (86, 877)], close=True),
                   fillcolor="#4F7D34", line=dict(color="black", width=2.5)))

# small black curved arrow under the note
shapes.append(dict(type="path", xref="paper", yref="paper",
                   path=path_str([(3590, 158), (3593, 192), (3568, 190), (3553, 207)], curve=True),
                   line=dict(color="black", width=5)))
shapes.append(dict(type="path", xref="paper", yref="paper",
                   path=path_str([(3533, 198), (3561, 211), (3543, 231)], close=True),
                   fillcolor="black", line=dict(color="black", width=1)))

layout["shapes"] = shapes
layout["annotations"] = annotations
fig.update_layout(**layout)
fig.write_html("out.html", config={"displayModeBar": False, "responsive": False},
               post_script="document.body.style.margin='0px';document.body.style.padding='0px';"
                           "document.body.style.overflow='hidden';")
